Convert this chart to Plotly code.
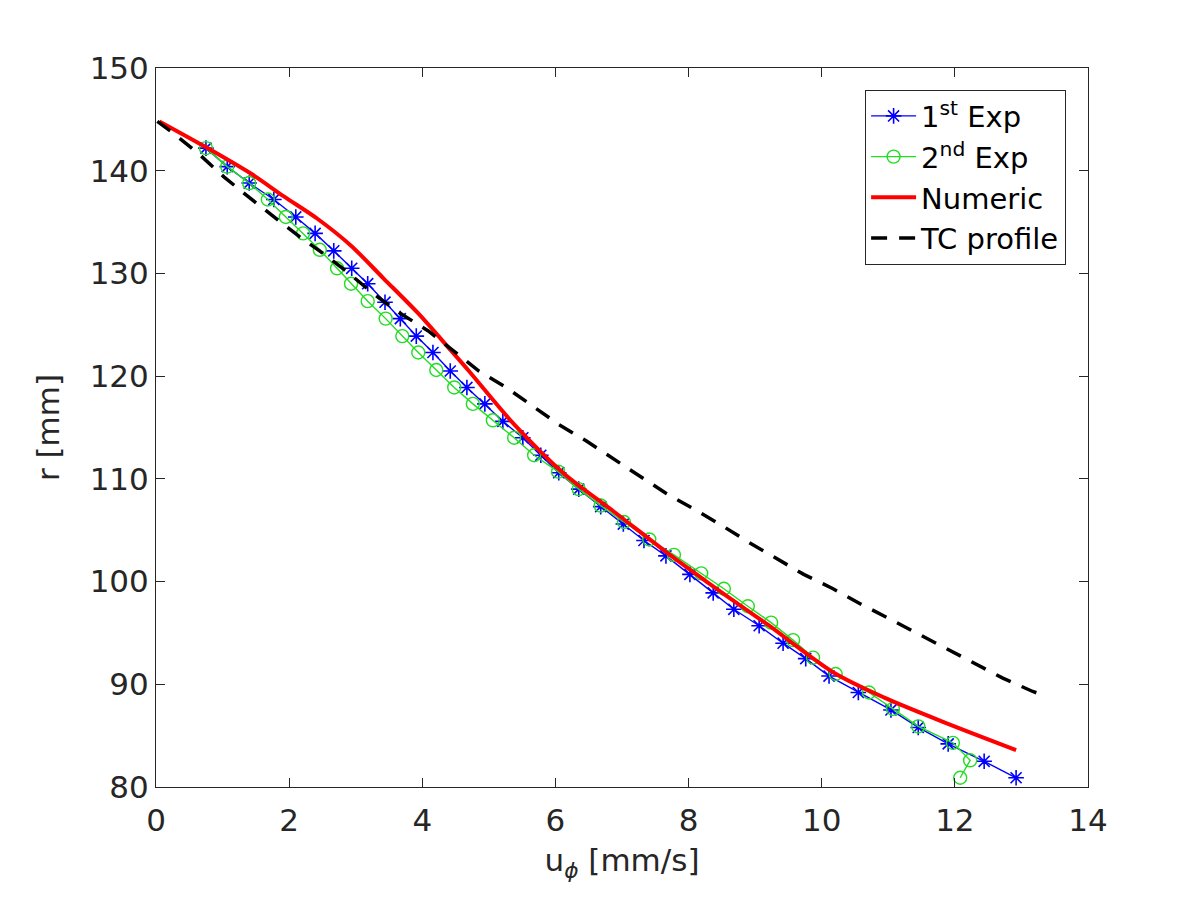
import plotly.graph_objects as go

# 1st experiment (blue stars)
exp1_u = [0.75, 1.07, 1.40, 1.77, 2.10, 2.39, 2.67, 2.94, 3.18, 3.44, 3.67, 3.91, 4.16,
          4.42, 4.67, 4.94, 5.21, 5.51, 5.78, 6.05, 6.35, 6.68, 7.02, 7.33, 7.66, 8.02,
          8.37, 8.68, 9.06, 9.42, 9.76, 10.11, 10.55, 11.04, 11.45, 11.90, 12.44, 12.92]
exp1_r = [142.2, 140.4, 138.8, 137.2, 135.5, 133.9, 132.2, 130.5, 129.0, 127.2, 125.6, 123.9, 122.3,
          120.5, 118.9, 117.3, 115.6, 114.0, 112.3, 110.6, 109.0, 107.3, 105.6, 104.0, 102.5, 100.7,
          98.9, 97.3, 95.7, 94.0, 92.5, 90.8, 89.2, 87.5, 85.8, 84.2, 82.5, 80.9]

# 2nd experiment (green circles)
exp2_u = [0.75, 1.07, 1.40, 1.68, 1.95, 2.21, 2.46, 2.72, 2.93, 3.18, 3.45, 3.70, 3.94,
          4.21, 4.48, 4.76, 5.06, 5.38, 5.68, 6.04, 6.35, 6.68, 7.03, 7.41, 7.78, 8.19,
          8.53, 8.89, 9.24, 9.57, 9.87, 10.21, 10.71, 11.07, 11.45, 11.97, 12.23, 12.08]
exp2_r = [142.2, 140.4, 138.8, 137.2, 135.5, 133.9, 132.3, 130.5, 129.0, 127.3, 125.6, 123.9, 122.3,
          120.6, 118.9, 117.3, 115.7, 114.0, 112.3, 110.7, 109.0, 107.4, 105.8, 104.1, 102.6, 100.8,
          99.3, 97.6, 96.0, 94.3, 92.6, 91.0, 89.2, 87.6, 85.9, 84.3, 82.6, 80.9]

# numerical result (red)
num_u = [0.05, 0.72, 1.43, 1.92, 2.43, 2.93, 3.42, 3.94, 4.43, 4.70, 5.38, 6.13, 6.88,
         7.78, 8.29, 8.79, 9.19, 10.19, 10.94, 11.84, 12.92]
num_r = [144.8, 142.4, 139.7, 137.5, 135.3, 132.7, 129.5, 126.1, 122.5, 120.5, 115.3, 110.5, 106.8,
         102.3, 99.9, 97.6, 95.8, 91.1, 88.7, 86.3, 83.6]

# Taylor-Couette profile (black dashed)
tc_u = [0.02, 0.27, 0.65, 1.02, 1.40, 1.77, 2.15, 2.52, 2.90, 3.27, 3.65, 4.09, 4.46, 4.85,
        5.26, 5.66, 6.05, 6.46, 6.86, 7.26, 7.66, 8.07, 8.49, 8.91, 9.31, 9.73, 10.17, 10.59,
        11.01, 11.45, 11.87, 12.29, 12.72, 13.17, 13.30]
tc_r = [144.8, 143.6, 141.6, 139.4, 137.4, 135.5, 133.6, 131.9, 130.0, 128.0, 126.2, 124.4, 122.5, 120.5,
        118.9, 117.1, 115.3, 113.7, 112.0, 110.4, 108.6, 107.1, 105.5, 103.8, 102.3, 100.7, 99.3, 97.8,
        96.4, 94.9, 93.5, 92.1, 90.6, 89.3, 89.0]

x_ticks = [0, 2, 4, 6, 8, 10, 12, 14]
y_ticks = [80, 90, 100, 110, 120, 130, 140, 150]

FONT = "DejaVu Sans"
AX_COL = "#262626"

fig = go.Figure()
fig.add_trace(go.Scatter(
    x=exp1_u, y=exp1_r, mode="lines+markers", name="1<sup>st</sup> Exp",
    line=dict(color="#0000ff", width=1.4),
    marker=dict(symbol="asterisk-open", size=13, color="#0000ff", line=dict(color="#0000ff", width=1.6)),
))
fig.add_trace(go.Scatter(
    x=exp2_u, y=exp2_r, mode="lines+markers", name="2<sup>nd</sup> Exp",
    line=dict(color="#22dd22", width=1.4),
    marker=dict(symbol="circle-open", size=13, color="#22dd22", line=dict(color="#22dd22", width=1.4)),
))
fig.add_trace(go.Scatter(
    x=num_u, y=num_r, mode="lines", name="Numeric",
    line=dict(color="#ff0000", width=4, shape="spline", smoothing=0.8),
))
fig.add_trace(go.Scatter(
    x=tc_u, y=tc_r, mode="lines", name="TC profile",
    line=dict(color="#000000", width=3.5, dash="16px,12px"),
))

axis_common = dict(
    showgrid=False, zeroline=False, showline=True, linecolor=AX_COL, linewidth=1,
    mirror="ticks", ticks="inside", ticklen=9, tickcolor=AX_COL, tickwidth=1,
    tickfont=dict(family=FONT, size=31, color=AX_COL),
)
fig.update_xaxes(range=[0, 14], tickvals=x_ticks, ticklabelstandoff=6, **axis_common,
                 title=dict(text="u<sub><i>ϕ</i></sub> [mm/s]", font=dict(family=FONT, size=31, color=AX_COL), standoff=12))
fig.update_yaxes(range=[80, 150], tickvals=y_ticks, **axis_common,
                 title=dict(text="r [mm]", font=dict(family=FONT, size=31, color=AX_COL), standoff=20))

fig.update_layout(
    width=1200, height=900,
    margin=dict(l=148, r=120, t=60, b=121),
    paper_bgcolor="white", plot_bgcolor="white",
    font=dict(family=FONT, color="#000000"),
    legend=dict(
        x=0.9765, y=0.97, xanchor="right", yanchor="top",
        bgcolor="white", bordercolor="#262626", borderwidth=1,
        font=dict(family=FONT, size=29, color="#000000"),
        itemwidth=45, tracegroupgap=0,
    ),
)

fig.write_html("out.html")
